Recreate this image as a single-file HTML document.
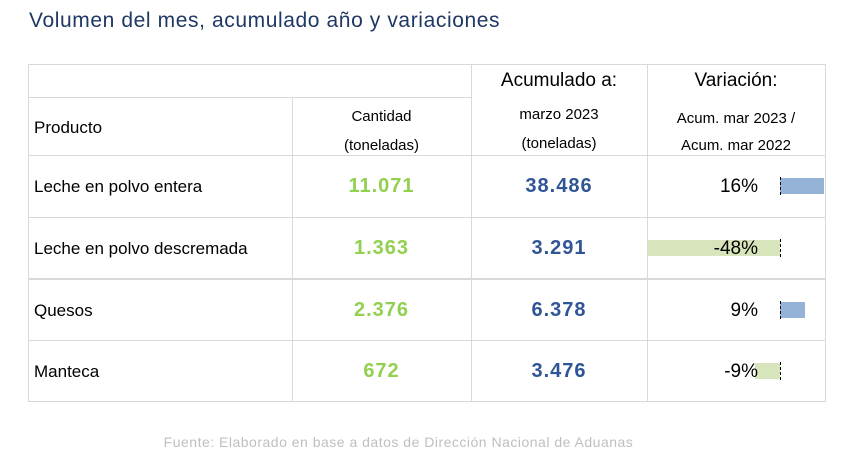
<!DOCTYPE html>
<html><head><meta charset="utf-8"><style>
body{margin:0;width:845px;height:467px;background:#fff;position:relative;overflow:hidden;font-family:"Liberation Sans",sans-serif;}
.a{position:absolute;white-space:nowrap;}
.h{position:absolute;background:#d9d9d9;}
.c{text-align:center;}
</style></head><body>
<div class="a" style="left:29px;top:9px;font-size:21px;letter-spacing:0.6px;color:#1f3864;">Volumen del mes, acumulado año y variaciones</div>

<div>
<div class="h" style="left:28px;top:64px;width:798px;height:1px"></div>
<div class="h" style="left:28px;top:97px;width:443px;height:1px"></div>
<div class="h" style="left:28px;top:155px;width:798px;height:1px"></div>
<div class="h" style="left:28px;top:217px;width:798px;height:1px"></div>
<div class="h" style="left:28px;top:278px;width:798px;height:2px"></div>
<div class="h" style="left:28px;top:340px;width:798px;height:1px"></div>
<div class="h" style="left:28px;top:401px;width:798px;height:1px"></div>
<div class="h" style="left:28px;top:64px;width:1px;height:338px"></div>
<div class="h" style="left:292px;top:97px;width:1px;height:305px"></div>
<div class="h" style="left:471px;top:64px;width:1px;height:338px"></div>
<div class="h" style="left:647px;top:64px;width:1px;height:338px"></div>
<div class="h" style="left:825px;top:64px;width:1px;height:338px"></div>
</div>

<div class="a" style="left:34px;top:118px;font-size:17px;color:#000">Producto</div>
<div class="a c" style="left:292px;width:179px;top:102px;font-size:15px;line-height:29px;color:#000">Cantidad<br>(toneladas)</div>
<div class="a c" style="left:471px;width:176px;top:70px;font-size:19px;color:#000">Acumulado a:</div>
<div class="a c" style="left:471px;width:176px;top:100px;font-size:15px;line-height:29px;color:#000">marzo 2023<br>(toneladas)</div>
<div class="a c" style="left:647px;width:178px;top:70px;font-size:19px;color:#000">Variación:</div>
<div class="a c" style="left:647px;width:178px;top:105px;font-size:15px;line-height:27px;color:#000">Acum. mar 2023 /<br>Acum. mar 2022</div>

<div id="rows"></div>

<div class="a c" style="left:0;width:797px;top:434px;font-size:14px;letter-spacing:0.5px;color:#bfbfbf">Fuente: Elaborado en base a datos de Dirección Nacional de Aduanas</div>

<script>
const products=["Leche en polvo entera","Leche en polvo descremada","Quesos","Manteca"];
const cantidad=["11.071","1.363","2.376","672"];
const acumulado=["38.486","3.291","6.378","3.476"];
const variacion=[16,-48,9,-9];
const rowTops=[155,217,279,340];
const rowH=61;
const zeroX=780, pxPerPct=2.75;
function xScale(v){return zeroX+v*pxPerPct;}
const root=document.getElementById('rows');
function mk(style,text){const d=document.createElement('div');d.className='a';d.style.cssText=style;if(text!=null)d.textContent=text;root.appendChild(d);return d;}
products.forEach((p,i)=>{
  const t=rowTops[i], mid=t+rowH/2;
  let e=mk(`left:34px;top:${mid-9}px;font-size:17px;color:#000`,p);
  
  
  e=mk(`left:292px;width:179px;text-align:center;top:${mid-11}px;font-size:20px;letter-spacing:1px;font-weight:bold;color:#92d050`,cantidad[i]);
  
  
  e=mk(`left:471px;width:176px;text-align:center;top:${mid-11}px;font-size:20px;letter-spacing:1px;font-weight:bold;color:#2f5597`,acumulado[i]);
  
  
  const v=variacion[i];
  const x0=Math.min(xScale(0),xScale(v)), w=Math.abs(xScale(v)-xScale(0));
  e=mk(`left:${x0}px;top:${mid-8}px;width:${w}px;height:16px;background:${v>=0?'#95b3d7':'#d8e4bc'}`);
  
  
  e=mk(`left:${zeroX}px;top:${mid-9}px;width:0;height:18px;border-left:1px dashed #000`);
  
  
  e=mk(`left:690px;width:68px;text-align:right;top:${mid-10}px;font-size:19px;color:#000`,v+'%');
  
  
});
</script>
</body></html>
